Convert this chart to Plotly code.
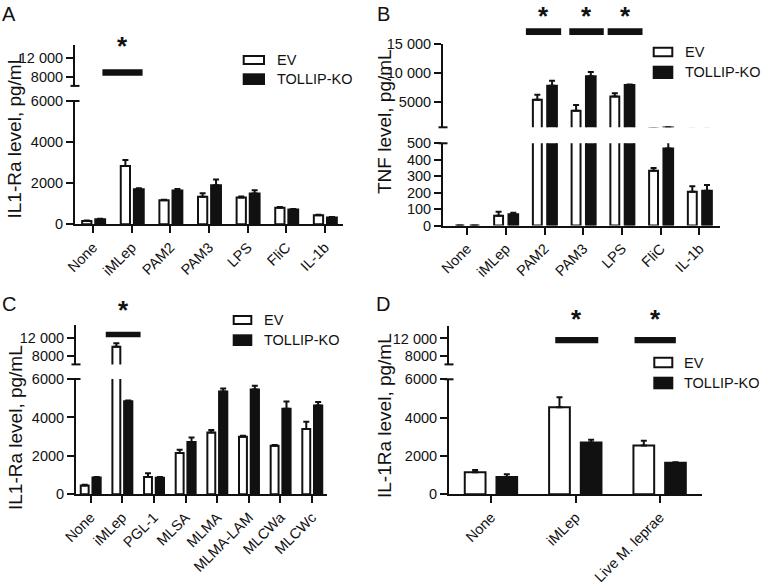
import plotly.graph_objects as go

# ---------------- data ----------------
cats_a = ["None", "iMLep", "PAM2", "PAM3", "LPS", "FliC", "IL-1b"]
a_ev = [160, 2840, 1170, 1340, 1300, 810, 440]
a_ev_err = [20, 290, 30, 170, 50, 30, 30]
a_ko = [250, 1700, 1640, 1900, 1500, 715, 330]
a_ko_err = [20, 60, 80, 280, 160, 30, 20]

cats_b = ["None", "iMLep", "PAM2", "PAM3", "LPS", "FliC", "IL-1b"]
b_ev = [0, 60, 5300, 3400, 5880, 333, 205]
b_ev_err = [0, 24, 880, 1000, 590, 17, 34]
b_ko = [0, 68, 7760, 9410, 7900, 468, 212]
b_ko_err = [0, 10, 880, 760, 60, 55, 34]

cats_c = ["None", "iMLep", "PGL-1", "MLSA", "MLMA", "MLMA-LAM", "MLCWa", "MLCWc"]
c_ev = [460, 10070, 900, 2150, 3210, 3000, 2520, 3400]
c_ev_err = [40, 780, 190, 170, 130, 50, 40, 380]
c_ko = [880, 4840, 860, 2720, 5350, 5460, 4450, 4620]
c_ko_err = [20, 40, 40, 240, 150, 190, 380, 180]

cats_d = ["None", "iMLep", "Live M. leprae"]
d_ev = [1150, 4540, 2540]
d_ev_err = [120, 520, 260]
d_ko = [900, 2700, 1650]
d_ko_err = [140, 140, 20]

series_names = ["EV", "TOLLIP-KO"]

# ticks
low_ticks_a = [0, 2000, 4000, 6000]
up_ticks_a = [8000, 12000]
up_text_a = ["8000", "12 000"]
low_ticks_b = [0, 100, 200, 300, 400, 500]
up_ticks_b = [5000, 10000, 15000]
up_text_b = ["5000", "10 000", "15 000"]

# significance (category index, left offset, right offset)
sig_a = [(1, -0.76, 0.28)]
sig_b = [(2, -0.48, 0.43), (3, -0.36, 0.53), (4, -0.37, 0.53)]
sig_c = [(1, -0.52, 0.58)]
sig_d = [(1, -0.24, 0.27), (2, -0.30, 0.19)]

# ---------------- layout helpers ----------------
W, H = 767, 588
FONT = "Arial, Liberation Sans, sans-serif"
INK = "#111111"


def px(x):
    return x / W


def py(y):
    return 1 - y / H


panels = [
    dict(key="A", cats=cats_a, ev=a_ev, eve=a_ev_err, ko=a_ko, koe=a_ko_err,
         xl=75, xr=343, xrange=[-0.47, 6.47],
         low=(224.3, 101.0), lowrange=[0, 6000], lowticks=low_ticks_a, lowtext=[str(v) for v in low_ticks_a],
         up=(85.9, 44.5), uprange=[6000, 15000], upticks=up_ticks_a, uptext=up_text_a,
         evoff=-0.285, evw=0.24, kooff=0.055, kow=0.255,
         title="IL1-Ra level, pg/mL", title_xy=(13.5, 136),
         letter_xy=(8.5, 14.5), sig=sig_a, sig_y=(69.3, 75.7), star_y=43,
         leg=(242.7, 265, (55, 65), (73.3, 85), 275.3)),
    dict(key="B", cats=cats_b, ev=b_ev, eve=b_ev_err, ko=b_ko, koe=b_ko_err,
         xl=443, xr=720, xrange=[-0.62, 6.53],
         low=(225.5, 143.3), lowrange=[0, 500], lowticks=low_ticks_b, lowtext=[str(v) for v in low_ticks_b],
         up=(127.3, 44.3), uprange=[500, 15000], upticks=up_ticks_b, uptext=up_text_b,
         evoff=-0.30, evw=0.23, kooff=0.07, kow=0.25,
         title="TNF level, pg/mL", title_xy=(384, 122),
         letter_xy=(383, 14.5), sig=sig_b, sig_y=(28.3, 35.0), star_y=12.5,
         leg=(652.7, 673.3, (46.7, 57.3), (65.7, 79), 682.7)),
    dict(key="C", cats=cats_c, ev=c_ev, eve=c_ev_err, ko=c_ko, koe=c_ko_err,
         xl=76, xr=327, xrange=[-0.46, 7.47],
         low=(494.3, 379.0), lowrange=[0, 6000], lowticks=low_ticks_a, lowtext=[str(v) for v in low_ticks_a],
         up=(364.4, 325.3), uprange=[6000, 15000], upticks=up_ticks_a, uptext=up_text_a,
         evoff=-0.31, evw=0.25, kooff=0.06, kow=0.26,
         title="IL1-Ra level, pg/mL", title_xy=(15, 428),
         letter_xy=(8.5, 304), sig=sig_c, sig_y=(331.7, 337.3), star_y=307,
         leg=(232.7, 252.3, (315, 325), (334.3, 346), 262.3)),
    dict(key="D", cats=cats_d, ev=d_ev, eve=d_ev_err, ko=d_ko, koe=d_ko_err,
         xl=449, xr=702, xrange=[-0.5, 2.5],
         low=(494.3, 379.3), lowrange=[0, 6000], lowticks=low_ticks_a, lowtext=[str(v) for v in low_ticks_a],
         up=(364.4, 325.5), uprange=[6000, 15000], upticks=up_ticks_a, uptext=up_text_a,
         evoff=-0.313, evw=0.246, kooff=0.063, kow=0.245,
         title="IL-1Ra level, pg/mL", title_xy=(384, 416),
         letter_xy=(383, 304), sig=sig_d, sig_y=(337, 343.3), star_y=316,
         leg=(653.3, 673.3, (356.7, 368.3), (376.7, 389.3), 681.7)),
]

fig = go.Figure()
layout = dict(
    template="none",
    width=W, height=H, margin=dict(l=0, r=0, t=0, b=0, pad=0, autoexpand=False),
    paper_bgcolor="white", plot_bgcolor="rgba(0,0,0,0)",
    showlegend=False, barmode="overlay",
    font=dict(family=FONT, size=14.5, color=INK),
)
shapes = []
annotations = []

tickfont = dict(family=FONT, size=14.5, color=INK)

for i, p in enumerate(panels):
    xa = "x" if i == 0 else f"x{i + 1}"
    ylo_n = 2 * i + 1
    yup_n = 2 * i + 2
    ylo = "y" if ylo_n == 1 else f"y{ylo_n}"
    yup = f"y{yup_n}"
    xkey = "xaxis" if i == 0 else f"xaxis{i + 1}"
    ylokey = "yaxis" if ylo_n == 1 else f"yaxis{ylo_n}"
    yupkey = f"yaxis{yup_n}"

    layout[xkey] = dict(
        domain=[px(p["xl"]), px(p["xr"])], anchor=ylo, type="category",
        range=p["xrange"], showline=True, linecolor=INK, linewidth=2,
        ticks="outside", ticklen=7, tickwidth=2, tickcolor=INK,
        tickangle=-45, tickfont=tickfont, showgrid=False, zeroline=False,
        automargin=False, fixedrange=True,
    )
    layout[ylokey] = dict(
        domain=[py(p["low"][0]), py(p["low"][1])], anchor=xa,
        range=p["lowrange"], showline=True, linecolor=INK, linewidth=2,
        ticks="outside", ticklen=7, tickwidth=2, tickcolor=INK,
        tickmode="array", tickvals=p["lowticks"], ticktext=p["lowtext"],
        tickfont=tickfont, showgrid=False, zeroline=False, automargin=False,
        fixedrange=True,
    )
    layout[yupkey] = dict(
        domain=[py(p["up"][0]), py(p["up"][1])], anchor=xa,
        range=p["uprange"], showline=True, linecolor=INK, linewidth=2,
        ticks="outside", ticklen=7, tickwidth=2, tickcolor=INK,
        tickmode="array", tickvals=p["upticks"], ticktext=p["uptext"],
        tickfont=tickfont, showgrid=False, zeroline=False, automargin=False,
        fixedrange=True,
    )

    n = len(p["cats"])
    for ya in (ylo, yup):
        fig.add_trace(go.Bar(
            x=p["cats"], y=p["ev"], xaxis=xa, yaxis=ya, name=series_names[0],
            offset=p["evoff"], width=p["evw"],
            marker=dict(color="white", line=dict(color=INK, width=2)),
            error_y=dict(type="data", symmetric=False, array=p["eve"],
                         arrayminus=[0] * n, color=INK, thickness=2, width=3),
        ))
        fig.add_trace(go.Bar(
            x=p["cats"], y=p["ko"], xaxis=xa, yaxis=ya, name=series_names[1],
            offset=p["kooff"], width=p["kow"],
            marker=dict(color=INK, line=dict(color=INK, width=2)),
            error_y=dict(type="data", symmetric=False, array=p["koe"],
                         arrayminus=[0] * n, color=INK, thickness=2, width=3),
        ))

    # axis-break caps
    ax = p["xl"]
    for yy in (p["up"][0], p["low"][1]):
        shapes.append(dict(type="line", xref="paper", yref="paper",
                           x0=px(ax - 4.5), x1=px(ax + 4.5), y0=py(yy), y1=py(yy),
                           line=dict(color=INK, width=2)))

    # significance bars + stars
    for (ci, r0, r1) in p["sig"]:
        shapes.append(dict(type="rect", xref=xa, yref="paper",
                           x0=ci + r0, x1=ci + r1,
                           y0=py(p["sig_y"][1]), y1=py(p["sig_y"][0]),
                           fillcolor=INK, line=dict(width=0)))
        annotations.append(dict(text="<b>*</b>", xref=xa, yref="paper",
                                x=ci + (r0 + r1) / 2, y=py(p["star_y"] + 3),
                                xanchor="center", yanchor="middle", showarrow=False,
                                font=dict(family=FONT, size=26, color=INK)))

    # legend
    lx0, lx1, ev_y, ko_y, tx = p["leg"]
    shapes.append(dict(type="rect", xref="paper", yref="paper",
                       x0=px(lx0 + 1), x1=px(lx1 - 1), y0=py(ev_y[1] - 1), y1=py(ev_y[0] + 1),
                       fillcolor="white", line=dict(color=INK, width=2)))
    shapes.append(dict(type="rect", xref="paper", yref="paper",
                       x0=px(lx0), x1=px(lx1), y0=py(ko_y[1]), y1=py(ko_y[0]),
                       fillcolor=INK, line=dict(width=0)))
    for name, yy in zip(series_names, (ev_y, ko_y)):
        annotations.append(dict(text=name, xref="paper", yref="paper",
                                x=px(tx), y=py((yy[0] + yy[1]) / 2),
                                xanchor="left", yanchor="middle", showarrow=False,
                                font=dict(family=FONT, size=14.5, color=INK)))

    # axis title
    annotations.append(dict(text=p["title"], xref="paper", yref="paper",
                            x=px(p["title_xy"][0]), y=py(p["title_xy"][1]),
                            xanchor="center", yanchor="middle", textangle=-90,
                            showarrow=False, font=dict(family=FONT, size=19, color=INK)))
    # panel letter
    annotations.append(dict(text=p["key"], xref="paper", yref="paper",
                            x=px(p["letter_xy"][0]), y=py(p["letter_xy"][1]),
                            xanchor="center", yanchor="middle", showarrow=False,
                            font=dict(family=FONT, size=20, color=INK)))

layout["shapes"] = shapes
layout["annotations"] = annotations
fig.update_layout(**layout)
fig.write_html(
    "out.html",
    config={"displayModeBar": False, "staticPlot": True},
    post_script="document.body.style.margin='0px';document.body.style.overflow='hidden';",
)
